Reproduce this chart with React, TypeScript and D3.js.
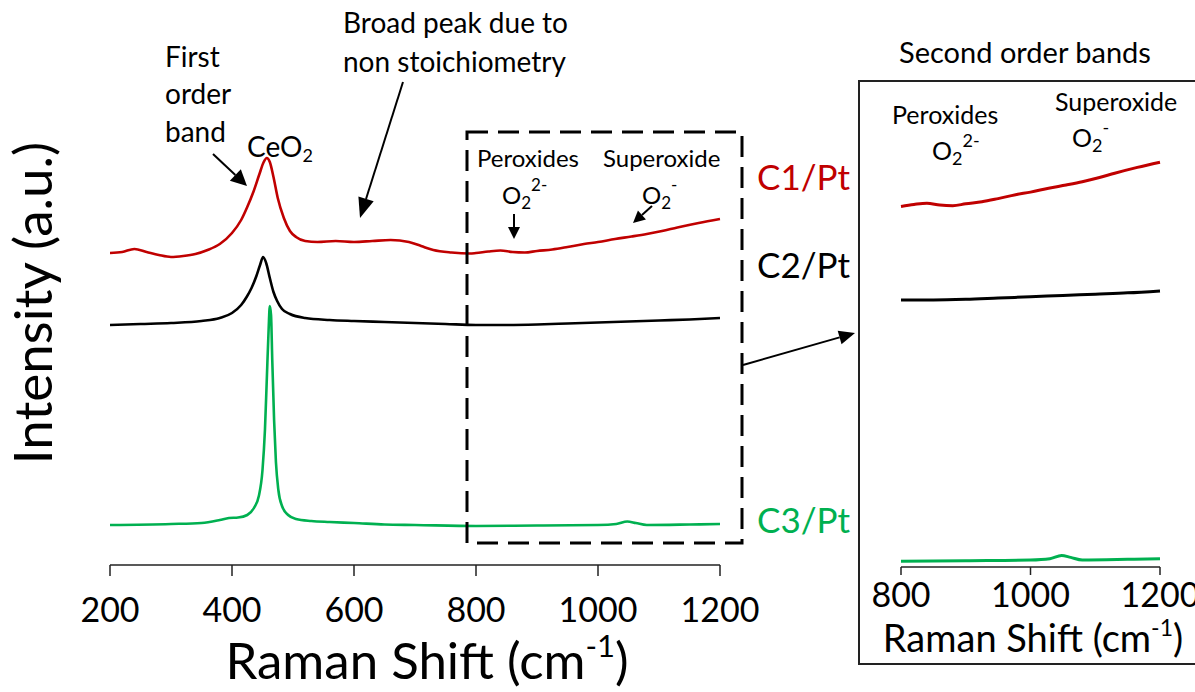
import React, { useEffect } from 'react';
import * as d3 from 'd3';

const W = 1195;
const H = 692;

// Raman shift (cm-1) and intensity (a.u., stacked offsets)
const c1Shift = [200, 220, 240, 260, 280, 300, 320, 340, 360, 380, 400, 415, 425, 435, 445, 452, 457, 462, 468, 475, 485, 495, 505, 520, 540, 570, 600, 630, 660, 690, 710, 730, 760, 790, 800, 820, 840, 860, 880, 900, 925, 950, 977, 1000, 1028, 1055, 1080, 1105, 1130, 1165, 1200];
const c1Intensity = [312, 313, 316, 313, 310, 308, 309, 311, 315, 321, 332, 345, 358, 373, 391, 403, 407, 403, 388, 367, 347, 334, 328, 324, 323, 324, 323, 324, 325, 323, 319, 315, 312.5, 311.5, 312, 313.5, 314.5, 313, 312.5, 314, 315.5, 318, 321, 323, 326, 328.5, 331, 334, 337.5, 342, 346];

const c2Shift = [200, 250, 300, 350, 380, 400, 415, 424, 432, 440, 446, 451, 456, 462, 468, 474, 482, 495, 520, 560, 600, 650, 700, 750, 800, 850, 900, 950, 1000, 1050, 1100, 1150, 1200];
const c2Intensity = [240, 241, 242, 244, 247, 252, 260, 268, 277, 289, 300, 308, 302, 287, 273, 264, 256, 251, 247, 245, 244, 243, 242, 241, 240, 240, 240.5, 241.5, 242.5, 243.5, 244.5, 245.5, 247];

const c3Shift = [200, 300, 350, 380, 395, 410, 425, 436, 444, 450, 454, 457, 460, 462, 464, 466, 469, 472, 476, 482, 492, 505, 530, 560, 600, 650, 700, 800, 900, 1000, 1030, 1048, 1062, 1080, 1150, 1200];
const c3Intensity = [40, 41, 42, 45, 47, 47.5, 50, 57, 69, 95, 135, 185, 235, 259, 250, 205, 145, 103, 75, 59, 50, 46, 44, 43, 42, 40.5, 40, 39, 39.5, 40, 41, 43.5, 42, 40, 40.5, 41];

const mainTicks = [200, 400, 600, 800, 1000, 1200];
const insetTicks = [800, 1000, 1200];

const series = [
  { name: 'C1/Pt', shift: c1Shift, intensity: c1Intensity, color: '#C00000' },
  { name: 'C2/Pt', shift: c2Shift, intensity: c2Intensity, color: '#000000' },
  { name: 'C3/Pt', shift: c3Shift, intensity: c3Intensity, color: '#00B050' },
];

const FONT = 'Lato, "Open Sans", sans-serif';

function Arrow({ x1, y1, x2, y2, len = 14, half = 6, width = 2 }: any) {
  const a = Math.atan2(y2 - y1, x2 - x1);
  const bx = x2 - len * Math.cos(a);
  const by = y2 - len * Math.sin(a);
  const px = -Math.sin(a) * half;
  const py = Math.cos(a) * half;
  return (
    <g>
      <line x1={x1} y1={y1} x2={bx} y2={by} stroke="#000" strokeWidth={width} />
      <polygon points={`${x2},${y2} ${bx + px},${by + py} ${bx - px},${by - py}`} fill="#000" />
    </g>
  );
}

export default function App() {
  useEffect(() => {
    document.body.style.margin = '0';
  }, []);

  const x = d3.scaleLinear().domain([200, 1200]).range([110, 720]);
  const y = d3.scaleLinear().domain([0, 565]).range([565, 0]);
  const xi = d3.scaleLinear().domain([800, 1200]).range([901, 1160]);
  const yi = d3.scaleLinear().domain([0, 470.77]).range([612, 0]);

  const mainLine = (s: any) =>
    d3.line<number>().x((d) => x(d)).y((_, i) => y(s.intensity[i])).curve(d3.curveMonotoneX)(s.shift) || '';
  const insetLine = (s: any) => {
    const idx = s.shift.map((_: number, i: number) => i).filter((i: number) => s.shift[i] >= 800);
    return d3.line<number>().x((i) => xi(s.shift[i])).y((i) => yi(s.intensity[i])).curve(d3.curveMonotoneX)(idx) || '';
  };

  const labelY = [190, 278, 533];

  return (
    <svg width={W} height={H} style={{ display: 'block', background: '#fff' }} fontFamily={FONT}>
      {/* main curves */}
      {series.map((s) => (
        <path key={s.name} d={mainLine(s)} fill="none" stroke={s.color} strokeWidth={2.6} strokeLinejoin="round" />
      ))}

      {/* main x axis */}
      <line x1={x(200)} x2={x(1200)} y1={565} y2={565} stroke="#222" strokeWidth={1.5} />
      {mainTicks.map((t) => (
        <g key={t}>
          <line x1={x(t)} x2={x(t)} y1={565} y2={576} stroke="#222" strokeWidth={1.5} />
          <text x={x(t)} y={622} textAnchor="middle" fontSize={34} fill="#000">{t}</text>
        </g>
      ))}
      <text x={427} y={679} textAnchor="middle" fontSize={51} fill="#000">
        Raman Shift (cm<tspan dy={-22} fontSize={31}>-1</tspan><tspan dy={22}>)</tspan>
      </text>
      <text transform="translate(52,303) rotate(-90)" textAnchor="middle" fontSize={53} fill="#000">Intensity (a.u.)</text>

      {/* series labels */}
      {series.map((s, i) => (
        <text key={s.name} x={757} y={labelY[i]} fontSize={35} fill={s.color}>{s.name}</text>
      ))}

      {/* dashed box */}
      <rect x={467} y={132} width={275} height={411} fill="none" stroke="#000" strokeWidth={3} strokeDasharray="21 10" />
      <Arrow x1={743} y1={365} x2={855} y2={333} len={16} half={7} width={2} />

      {/* annotations */}
      <g fontSize={28} fill="#000">
        <text x={165} y={67}>First</text>
        <text x={165} y={104}>order</text>
        <text x={165} y={142}>band</text>
        <text x={247} y={157}>CeO<tspan fontSize={18} dy={5}>2</tspan></text>
        <text x={343} y={33}>Broad peak due to</text>
        <text x={343} y={72}>non stoichiometry</text>
      </g>
      <Arrow x1={213} y1={154} x2={247} y2={186} len={16} half={8} width={2} />
      <Arrow x1={403} y1={82} x2={360} y2={218} len={20} half={8} width={2} />

      <g fontSize={24} fill="#000">
        <text x={477} y={167}>Peroxides</text>
        <text x={502} y={204}>O<tspan fontSize={17} dy={5}>2</tspan><tspan fontSize={17} dy={-18}>2-</tspan></text>
        <text x={603} y={167}>Superoxide</text>
        <text x={642} y={204}>O<tspan fontSize={17} dy={5}>2</tspan><tspan fontSize={17} dy={-18}>-</tspan></text>
      </g>
      <Arrow x1={514} y1={214} x2={514} y2={239} len={12} half={6} width={2} />
      <Arrow x1={652} y1={206} x2={633} y2={223} len={12} half={6} width={2} />

      {/* inset */}
      <rect x={859} y={81} width={340} height={583} fill="none" stroke="#222" strokeWidth={2} />
      <text x={1025} y={63} textAnchor="middle" fontSize={29} fill="#000">Second order bands</text>
      {series.map((s) => (
        <path key={'i' + s.name} d={insetLine(s)} fill="none" stroke={s.color} strokeWidth={3} strokeLinejoin="round" />
      ))}
      <line x1={xi(800)} x2={xi(1200)} y1={567} y2={567} stroke="#222" strokeWidth={1.5} />
      {insetTicks.map((t) => (
        <g key={'it' + t}>
          <line x1={xi(t)} x2={xi(t)} y1={567} y2={575} stroke="#222" strokeWidth={1.5} />
          <text x={xi(t)} y={607} textAnchor="middle" fontSize={34} fill="#000">{t}</text>
        </g>
      ))}
      <text x={1033} y={652} textAnchor="middle" fontSize={38} fill="#000">
        Raman Shift (cm<tspan dy={-16} fontSize={23}>-1</tspan><tspan dy={16}>)</tspan>
      </text>
      <g fontSize={25} fill="#000">
        <text x={892} y={124}>Peroxides</text>
        <text x={932} y={160}>O<tspan fontSize={18} dy={5}>2</tspan><tspan fontSize={18} dy={-18}>2-</tspan></text>
        <text x={1055} y={111}>Superoxide</text>
        <text x={1072} y={147}>O<tspan fontSize={18} dy={5}>2</tspan><tspan fontSize={18} dy={-18}>-</tspan></text>
      </g>
    </svg>
  );
}
